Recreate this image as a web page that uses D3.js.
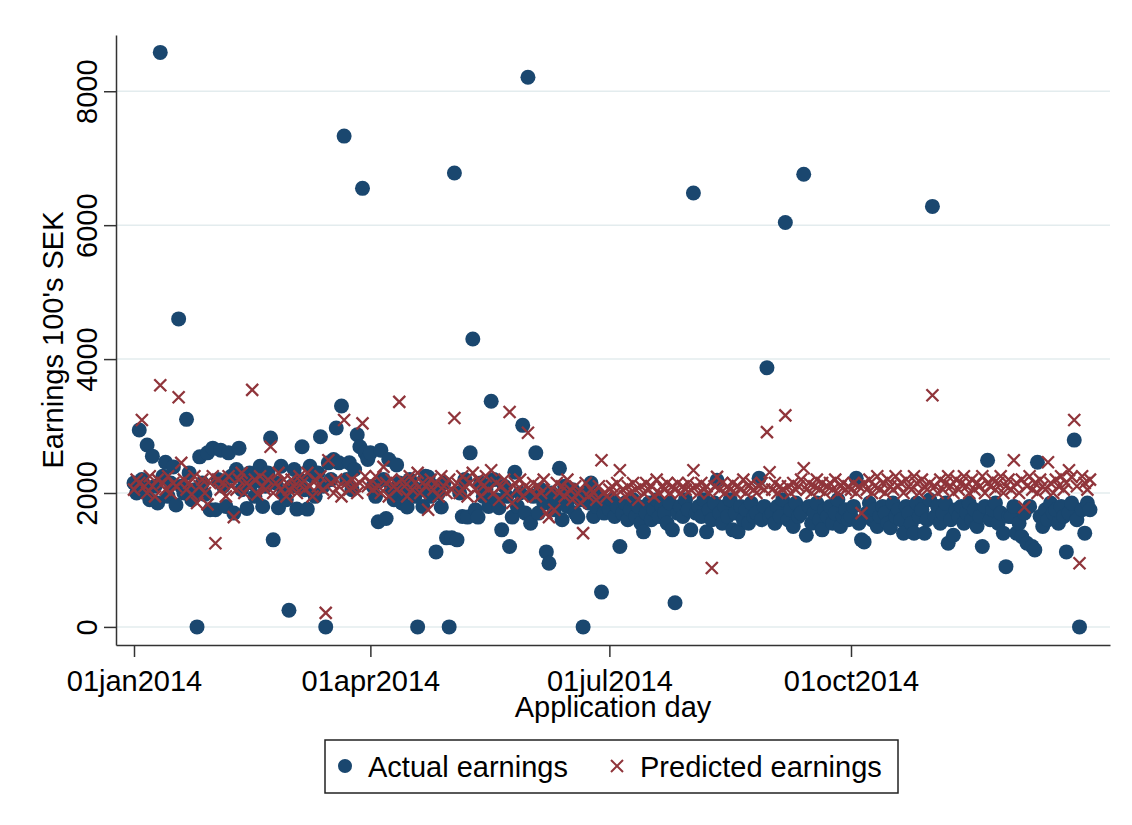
<!DOCTYPE html>
<html>
<head>
<meta charset="utf-8">
<script src="https://cdn.jsdelivr.net/npm/d3@7"></script>
<style>
  body { margin: 0; background: #fff; }
  text { font-family: "Liberation Sans", Arial, sans-serif; fill: #000; }
</style>
</head>
<body>
<div id="chart"></div>
<script>
// Daily values, 100's SEK, one array per month (actual earnings)
const actualJan = [2150, 2000, 2940, 2200, 2050, 2716, 1900, 2550, 2100, 1850, 8580, 2250, 2460, 1950, 2150, 2390, 1820, 4600, 2100, 2000, 3100, 2300, 1900, 2050, 0, 2540, 2150, 1980, 2600, 1750, 2670];
const actualFeb = [1750, 2200, 2640, 2100, 1800, 2600, 2250, 1700, 2350, 2670, 2050, 2200, 1770, 2300, 2150, 1950, 2250, 2400, 1800, 2100, 2300, 2820, 1300, 2150, 1780, 2400, 2000, 1900];
const actualMar = [250, 2100, 2350, 1760, 2200, 2690, 2050, 1760, 2400, 2250, 1950, 2300, 2840, 2100, 0, 2450, 2200, 2500, 2970, 2450, 3300, 7330, 2200, 2450, 2050, 2350, 2870, 2690, 6550, 2600, 2500];
const actualApr = [2600, 2100, 1950, 1570, 2640, 2200, 1620, 2500, 2050, 1900, 2420, 2150, 1850, 2000, 1790, 2200, 2100, 1950, 0, 2050, 1800, 2250, 2240, 1950, 2100, 1120, 2000, 1790, 2150, 1330];
const actualMay = [0, 1330, 6780, 1300, 2000, 1650, 2200, 1640, 2600, 4300, 1750, 1640, 2150, 1950, 2050, 1800, 3370, 2200, 1900, 1780, 1450, 2100, 1950, 1200, 1640, 2310, 1800, 2000, 3010, 1700, 8210];
const actualJun = [1550, 1950, 2600, 1700, 2050, 1850, 1120, 950, 2000, 1750, 1900, 2370, 1600, 2100, 1800, 1950, 2050, 1700, 1640, 1900, 0, 2000, 1850, 2150, 1650, 1800, 1950, 520, 1700, 1850];
const actualJul = [1750, 1900, 1650, 1800, 1200, 1700, 1850, 1600, 1750, 1900, 1650, 1800, 1550, 1420, 1700, 1850, 1600, 1750, 1900, 1650, 1800, 1700, 1550, 1850, 1450, 360, 1700, 1800, 1650, 1900, 1750];
const actualAug = [1450, 6480, 1700, 1800, 1650, 1900, 1420, 1750, 1600, 1850, 2190, 1700, 1550, 1800, 1650, 1900, 1450, 1700, 1420, 1800, 1600, 1750, 1550, 1850, 1650, 1700, 2220, 1600, 1800, 3870, 1650];
const actualSep = [1700, 1550, 1800, 1650, 1900, 6040, 1600, 1750, 1500, 1850, 1650, 1700, 6760, 1370, 1800, 1550, 1700, 1850, 1600, 1450, 1750, 1650, 1800, 1550, 1700, 1900, 1500, 1650, 1750, 1600];
const actualOct = [1650, 1800, 2220, 1550, 1300, 1270, 1700, 1850, 1600, 1750, 1500, 1650, 1800, 1700, 1550, 1480, 1850, 1650, 1750, 1600, 1400, 1800, 1700, 1550, 1400, 1850, 1650, 1750, 1400, 1600, 1900];
const actualNov = [6280, 1650, 1800, 1550, 1700, 1850, 1250, 1600, 1370, 1750, 1650, 1800, 1550, 1700, 1850, 1600, 1750, 1500, 1650, 1200, 1800, 2490, 1600, 1750, 1850, 1550, 1700, 1400, 900, 1650];
const actualDec = [1650, 1800, 1400, 1550, 1350, 1700, 1250, 1800, 1200, 1150, 2460, 1650, 1500, 1750, 1600, 1850, 1700, 1750, 1550, 1800, 1650, 1120, 1700, 1850, 2790, 1600, 0, 1750, 1400, 1850, 1750];

// Predicted earnings, same days
const predJan = [2050, 2200, 2150, 3090, 2100, 2000, 2250, 2100, 1950, 2200, 3610, 2150, 2050, 2250, 2000, 2150, 2100, 3430, 2450, 2200, 2050, 2150, 1980, 2250, 1850, 2100, 2200, 2000, 1830, 2150, 2250];
const predFeb = [1250, 2200, 2050, 2150, 1950, 2250, 2100, 1640, 2050, 2200, 2300, 2000, 2150, 2100, 3540, 2200, 1980, 2250, 2100, 2050, 2200, 2690, 2000, 2150, 2300, 2050, 2200, 1950];
const predMar = [2050, 2200, 2100, 2000, 2250, 2150, 2050, 2300, 2100, 1950, 2200, 2100, 2250, 2050, 210, 2490, 2150, 2000, 2200, 2100, 1950, 3090, 2150, 2050, 2200, 2100, 2000, 2150, 3040, 2250, 2100];
const predApr = [2150, 2050, 2250, 2100, 2000, 2390, 2150, 1950, 2200, 2100, 2050, 3360, 2200, 2100, 1950, 2250, 2050, 2150, 2300, 2000, 2150, 2100, 1750, 2200, 2050, 2150, 1950, 2250, 2100, 2000];
const predMay = [2200, 2050, 3120, 2150, 2000, 2250, 2100, 1950, 2150, 2300, 2050, 2200, 1950, 2100, 2250, 2050, 2340, 2000, 2150, 1900, 2100, 2200, 2000, 3210, 1850, 2150, 2050, 2200, 1950, 2100, 2900];
const predJun = [2050, 2150, 1950, 2100, 2000, 2200, 1700, 1640, 2050, 1750, 2150, 2000, 2100, 1950, 2200, 2050, 1900, 2100, 2000, 1850, 1400, 2150, 1950, 2050, 2000, 1900, 2100, 2490, 2000, 1950];
const predJul = [2050, 2100, 2000, 2150, 2340, 2050, 1950, 2100, 2000, 2150, 2050, 1900, 2100, 2000, 2150, 2050, 2100, 1950, 2200, 2000, 2100, 2050, 2150, 2000, 2100, 2050, 2150, 2000, 2100, 2050, 2150];
const predAug = [2050, 2340, 2100, 2000, 2150, 2050, 2100, 2000, 880, 2100, 2240, 2050, 2150, 2000, 2100, 2050, 2150, 2000, 2100, 2050, 2200, 2000, 2100, 2150, 2050, 2000, 2100, 2150, 2050, 2910, 2310];
const predSep = [2050, 2150, 2000, 2100, 2050, 3160, 2100, 2000, 2150, 2050, 2100, 2200, 2370, 2050, 2150, 2000, 2100, 2200, 2050, 2150, 2000, 2100, 2150, 2050, 2200, 2000, 2100, 2150, 2050, 2100];
const predOct = [2050, 2150, 2000, 2100, 1700, 2150, 2050, 2200, 2000, 2100, 2250, 2050, 2150, 2000, 2200, 2100, 2050, 2250, 2100, 2150, 2000, 2200, 2100, 2050, 2250, 2150, 2000, 2200, 2100, 2050, 2150];
const predNov = [3460, 2100, 2000, 2200, 2050, 2150, 2250, 2100, 2000, 2200, 2050, 2150, 2250, 2100, 2000, 2200, 2050, 2150, 2100, 2250, 2000, 2150, 2100, 2200, 2050, 2150, 2250, 2000, 2100, 2200];
const predDec = [2050, 2490, 2150, 2000, 2200, 1790, 2100, 2250, 2050, 2150, 2000, 2200, 2100, 2050, 2460, 2150, 2000, 2200, 2100, 2250, 2050, 2150, 2340, 2240, 3090, 2100, 950, 2250, 2150, 2050, 2200];

// Axis ticks
const xTickDates = ["2014-01-01", "2014-04-01", "2014-07-01", "2014-10-01"];
const yTicks = [0, 2000, 4000, 6000, 8000];
const seriesNames = ["Actual earnings", "Predicted earnings"];

const actual = [].concat(actualJan, actualFeb, actualMar, actualApr, actualMay, actualJun,
    actualJul, actualAug, actualSep, actualOct, actualNov, actualDec);
const predicted = [].concat(predJan, predFeb, predMar, predApr, predMay, predJun,
    predJul, predAug, predSep, predOct, predNov, predDec);
const days = d3.timeDay.range(new Date(2014, 0, 1), new Date(2015, 0, 1));

const data = days.map((d, i) => ({date: d, actual: actual[i], predicted: predicted[i]}));

const navy = "#1a476f";
const maroon = "#90353b";
const fontSize = 29;

const svg = d3.select("#chart")
    .append("svg")
    .attr("width", 1132)
    .attr("height", 825);

// Scales: plot region runs 116..1110 horizontally, 35..645 vertically
const plotLeft = 116, plotRight = 1110, plotTop = 35, plotBottom = 645;
const x0 = d3.scaleTime()
    .domain([new Date(2014, 0, 1), new Date(2014, 9, 1)])
    .range([134, 851]);
const x = d3.scaleTime()
    .domain([x0.invert(plotLeft), x0.invert(plotRight)])
    .range([plotLeft, plotRight]);
const y = d3.scaleLinear()
    .domain([-270, 8840])
    .range([plotBottom, plotTop]);

// Grid lines
svg.append("g")
    .selectAll("line")
    .data(yTicks)
    .enter()
    .append("line")
    .attr("x1", plotLeft)
    .attr("x2", plotRight)
    .attr("y1", d => y(d))
    .attr("y2", d => y(d))
    .attr("stroke", "#e3ecee")
    .attr("stroke-width", 1.5);

// Axes
const fmt = d => d3.timeFormat("%d")(d) + d3.timeFormat("%b")(d).toLowerCase() + d3.timeFormat("%Y")(d);
const parse = d3.timeParse("%Y-%m-%d");

const xAxis = svg.append("g")
    .attr("transform", `translate(0,${plotBottom})`)
    .call(d3.axisBottom(x)
        .tickValues(xTickDates.map(parse))
        .tickFormat(fmt)
        .tickSize(12)
        .tickSizeOuter(0)
        .tickPadding(13));

const yAxis = svg.append("g")
    .attr("transform", `translate(${plotLeft},0)`)
    .call(d3.axisLeft(y)
        .tickValues(yTicks)
        .tickFormat(d3.format("d"))
        .tickSize(12)
        .tickSizeOuter(0));

[xAxis, yAxis].forEach(g => {
    g.selectAll("path, line").attr("stroke", "#333").attr("stroke-width", 1.5);
    g.selectAll("text")
        .style("font-size", fontSize + "px")
        .style("font-family", "Liberation Sans, Arial, sans-serif")
        .attr("fill", "#000");
});

// Rotate y tick labels
yAxis.selectAll(".tick text")
    .attr("x", null)
    .attr("dy", null)
    .attr("text-anchor", "middle")
    .attr("transform", "translate(-19,0) rotate(-90)");

// Axis titles
svg.append("text")
    .attr("x", (plotLeft + plotRight) / 2)
    .attr("y", 717)
    .attr("text-anchor", "middle")
    .style("font-size", fontSize + "px")
    .text("Application day");

svg.append("text")
    .attr("transform", `translate(63,${(plotTop + plotBottom) / 2}) rotate(-90)`)
    .attr("text-anchor", "middle")
    .style("font-size", fontSize + "px")
    .text("Earnings 100's SEK");

// Actual earnings: circles
svg.append("g")
    .selectAll("circle")
    .data(data)
    .enter()
    .append("circle")
    .attr("cx", d => x(d.date))
    .attr("cy", d => y(d.actual))
    .attr("r", 7.5)
    .attr("fill", navy);

// Predicted earnings: crosses
const cross = "M-6,-6L6,6M6,-6L-6,6";
svg.append("g")
    .selectAll("path")
    .data(data)
    .enter()
    .append("path")
    .attr("transform", d => `translate(${x(d.date)},${y(d.predicted)})`)
    .attr("d", cross)
    .attr("fill", "none")
    .attr("stroke", maroon)
    .attr("stroke-width", 2.3);

// Legend
const legend = svg.append("g");
legend.append("rect")
    .attr("x", 325)
    .attr("y", 740)
    .attr("width", 573)
    .attr("height", 53)
    .attr("fill", "#fff")
    .attr("stroke", "#222")
    .attr("stroke-width", 1.5);

legend.append("circle")
    .attr("cx", 345)
    .attr("cy", 766)
    .attr("r", 7)
    .attr("fill", navy);

legend.append("text")
    .attr("x", 368)
    .attr("y", 777)
    .style("font-size", fontSize + "px")
    .text(seriesNames[0]);

legend.append("path")
    .attr("transform", "translate(617,766)")
    .attr("d", cross)
    .attr("fill", "none")
    .attr("stroke", maroon)
    .attr("stroke-width", 2);

legend.append("text")
    .attr("x", 640)
    .attr("y", 777)
    .style("font-size", fontSize + "px")
    .text(seriesNames[1]);
</script>
</body>
</html>
